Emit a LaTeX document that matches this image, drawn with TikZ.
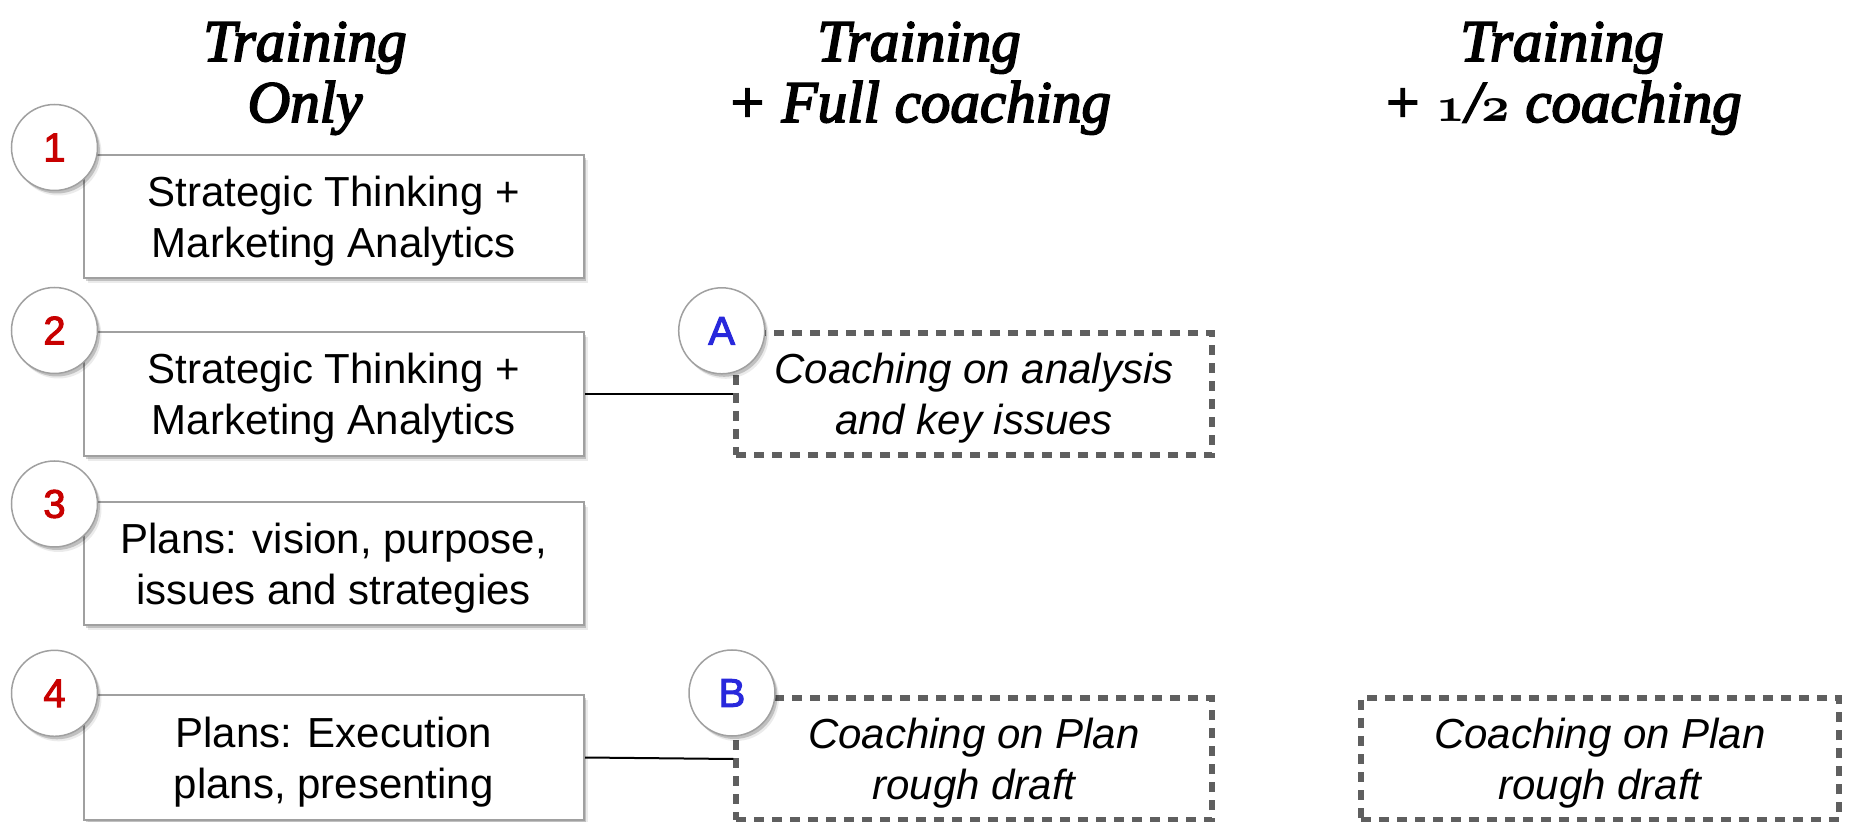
\documentclass[tikz,border=0pt]{standalone}
\usepackage{fontspec}
\setmainfont{Liberation Sans}
\newfontfamily\headfont[FakeBold=3]{Liberation Serif}
\newfontfamily\badgefont[FakeBold=2.5]{Liberation Sans}
\usetikzlibrary{shadows}
\definecolor{numred}{RGB}{200,0,0}
\definecolor{letblue}{RGB}{40,40,220}
\definecolor{boxgray}{RGB}{160,160,160}
\definecolor{dashgray}{RGB}{95,95,95}
% old-style figures for the fraction in the third heading
\newcommand{\osfig}[1]{{\fontsize{38}{38}\usefont{OML}{cmm}{b}{it}#1}}

\begin{document}
\begin{tikzpicture}[x=0.5pt,y=-0.5pt,
  softshadow/.style={
    drop shadow={shadow xshift=1.2pt,shadow yshift=-1.5pt,opacity=.18,fill=black},
    drop shadow={shadow xshift=2pt,shadow yshift=-2.5pt,opacity=.08,fill=black}},
  head/.style={font=\headfont\itshape\fontsize{29.5}{30.5}\selectfont,
    anchor=base, inner sep=0pt},
  stepbox/.style={draw=boxgray, line width=1pt, fill=white,
    minimum width=250.25pt, inner sep=0pt, align=center, text depth=-1.6pt,
    font=\fontsize{21}{25.5}\selectfont, softshadow},
  coachbox/.style={draw=dashgray, line width=2.6pt, dash pattern=on 5pt off 4pt,
    fill=white, minimum width=238pt, minimum height=61pt, inner sep=0pt,
    align=center, text depth=-1.6pt,
    font=\itshape\fontsize{21}{25.5}\selectfont},
  badge/.style={circle, draw=boxgray, line width=0.75pt, fill=white,
    minimum size=43pt, inner sep=0pt, font=\badgefont\fontsize{20}{20}\selectfont,
    softshadow},
  link/.style={draw=black, line width=1pt}]

\fill[white] (0,0) rectangle (1851,822);
\useasboundingbox (0,0) rectangle (1851,822);

% column headings
\node[head] (h1a) at (305,61)  {Training};
\node[head] (h1b) at (305,122) {Only};
\node[head] (h2a) at (919,61)  {Training};
\node[head] (h2b) at (919,122) {+ Full coaching};
\node[head] (h3a) at (1562,61)  {Training};
\node[head] (h3b) at (1562,122) {+ \osfig{1}/\osfig{2} coaching};

% training modules
\node[stepbox, minimum height=61.5pt] (s1) at (333.75,216.5) {Strategic Thinking +\\Marketing Analytics};
\node[stepbox, minimum height=62pt]   (s2) at (333.75,394)   {Strategic Thinking +\\Marketing Analytics};
\node[stepbox, minimum height=61.5pt] (s3) at (333.75,563.5) {Plans: vision, purpose,\\issues and strategies};
\node[stepbox, minimum height=62.5pt] (s4) at (333.75,757.5) {Plans: Execution\\plans, presenting};

% coaching sessions
\node[coachbox] (ca) at (974,394)  {Coaching on analysis\\and key issues};
\node[coachbox] (cb) at (974,759)  {Coaching on Plan\\rough draft};
\node[coachbox, minimum width=239pt] (cc) at (1600,759) {Coaching on Plan\\rough draft};

% links from modules to coaching
\draw[link] (s2.east) -- (ca.west);
\draw[link] (s4.east) -- (cb.west);

% numbered and lettered badges
\node[badge, text=numred]  (n1) at (54.5,147.5) {1};
\node[badge, text=numred]  (n2) at (54.5,330.5) {2};
\node[badge, text=numred]  (n3) at (54.5,504)   {3};
\node[badge, text=numred]  (n4) at (54.5,693.3) {4};
\node[badge, text=letblue] (na) at (721.7,330.8) {A};
\node[badge, text=letblue] (nb) at (732,693)     {B};
\end{tikzpicture}
\end{document}
